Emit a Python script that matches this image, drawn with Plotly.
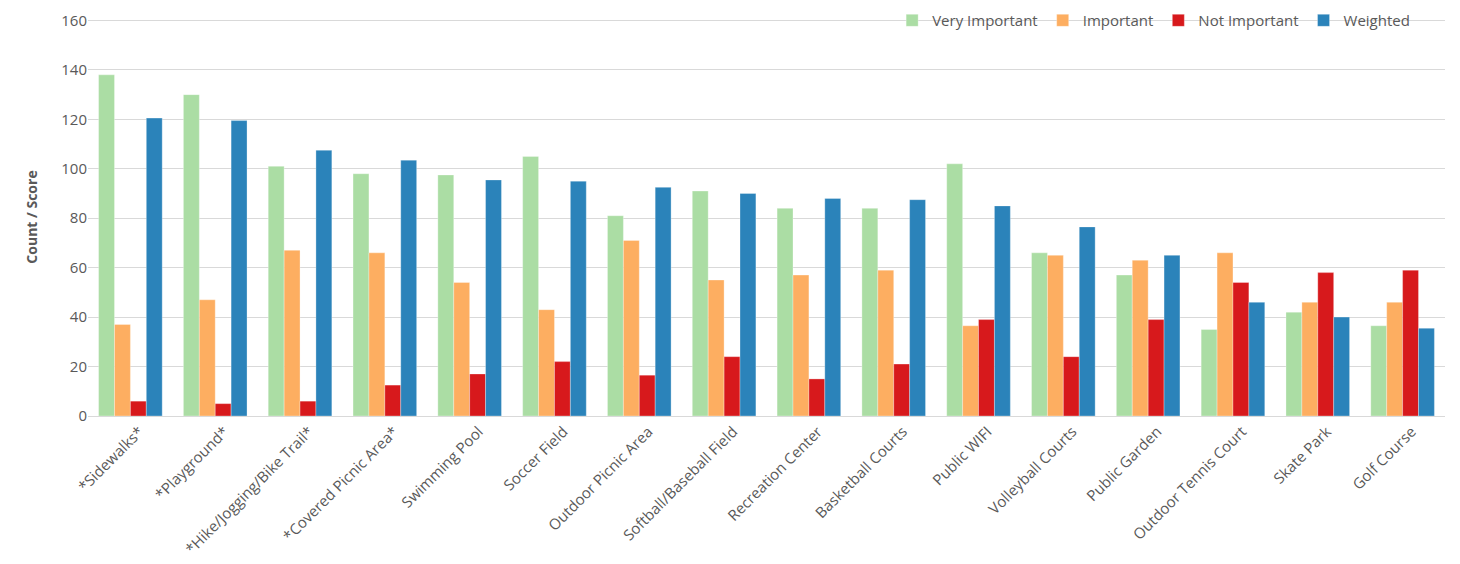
import plotly.graph_objects as go

categories = ["*Sidewalks*", "*Playground*", "*Hike/Jogging/Bike Trail*", "*Covered Picnic Area*",
              "Swimming Pool", "Soccer Field", "Outdoor Picnic Area", "Softball/Baseball Field",
              "Recreation Center", "Basketball Courts", "Public WIFI", "Volleyball Courts",
              "Public Garden", "Outdoor Tennis Court", "Skate Park", "Golf Course"]
very_important = [138, 130, 101, 98, 97.5, 105, 81, 91, 84, 84, 102, 66, 57, 35, 42, 36.5]
important = [37, 47, 67, 66, 54, 43, 71, 55, 57, 59, 36.5, 65, 63, 66, 46, 46]
not_important = [6, 5, 6, 12.5, 17, 22, 16.5, 24, 15, 21, 39, 24, 39, 54, 58, 59]
weighted = [120.5, 119.5, 107.5, 103.5, 95.5, 95, 92.5, 90, 88, 87.5, 85, 76.5, 65, 46, 40, 35.5]

series = [
    ("Very Important", very_important, "#abdda4"),
    ("Important", important, "#fdae61"),
    ("Not Important", not_important, "#d7191c"),
    ("Weighted", weighted, "#2b83ba"),
]

fig = go.Figure()
for name, vals, color in series:
    fig.add_trace(go.Bar(x=categories, y=vals, name=name,
                         marker=dict(color=color, line=dict(color="rgba(255,255,255,0.6)", width=0.5))))

fig.update_layout(
    width=1460, height=564,
    barmode="group", bargap=0.25, bargroupgap=0,
    plot_bgcolor="white", paper_bgcolor="white",
    font=dict(family="Open Sans, Liberation Sans, sans-serif", size=14, color="#595959"),
    margin=dict(l=80, r=23, t=10, b=156, autoexpand=False),
    legend=dict(orientation="h", x=0.978, xanchor="right", y=1.035, yanchor="top",
                font=dict(size=15, color="#595959"), bgcolor="rgba(0,0,0,0)",
                itemwidth=30, traceorder="normal"),
    xaxis=dict(tickangle=-45, showgrid=False, showline=True, linecolor="#d9d9d9", linewidth=1,
               ticks="", automargin=False, tickfont=dict(size=15), ticklabelshift=9),
    yaxis=dict(range=[0, 161], tickvals=[0, 20, 40, 60, 80, 100, 120, 140, 160],
               showgrid=True, gridcolor="#d9d9d9", gridwidth=1,
               zeroline=False, showline=False, ticks="", automargin=False,
               tickfont=dict(size=15),
               title=dict(text="<b>Count / Score</b>", font=dict(size=14, color="#595959"), standoff=20)),
)

fig.write_html("out.html")
